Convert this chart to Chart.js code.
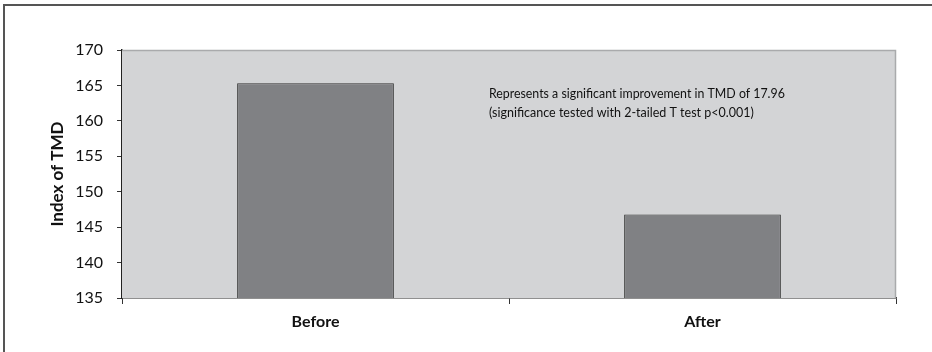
<!DOCTYPE html>
<html>
<head>
<meta charset="utf-8">
<script src="https://cdn.jsdelivr.net/npm/chart.js@4.4.1/dist/chart.umd.min.js"></script>
<style>
  html, body { margin: 0; padding: 0; background: #fff; }
  #wrap { width: 932px; height: 352px; position: relative; }
</style>
</head>
<body>
<div id="wrap"><canvas id="tmdChart" width="932" height="352"></canvas></div>
<script>
// TMD index before and after
const categories = ["Before", "After"];
const tmdValues = [165.3, 146.8];
const yMin = 135;
const yMax = 170;
const yStep = 5;
const noteLines = [
  "Represents a significant improvement in TMD of 17.96",
  "(significance tested with 2-tailed T test p<0.001)"
];

const FONT = "Lato, 'Open Sans', sans-serif";

// gray plot background, light top/right edge, frame and note text
const plotDecor = {
  id: "plotDecor",
  beforeDatasetsDraw(chart) {
    const { ctx, chartArea: a } = chart;
    ctx.save();
    ctx.fillStyle = "#d3d4d6";
    ctx.fillRect(a.left, a.top, a.right - a.left, a.bottom - a.top);
    ctx.strokeStyle = "#a9aaac";
    ctx.lineWidth = 1.5;
    ctx.beginPath();
    ctx.moveTo(a.left, a.top + 0.5);
    ctx.lineTo(a.right - 0.5, a.top + 0.5);
    ctx.lineTo(a.right - 0.5, a.bottom);
    ctx.stroke();
    ctx.restore();
  },
  afterDraw(chart) {
    const { ctx, chartArea: a } = chart;
    ctx.save();
    // outer frame, top and left side
    ctx.strokeStyle = "#555";
    ctx.lineWidth = 2;
    ctx.beginPath();
    ctx.moveTo(4, chart.height);
    ctx.lineTo(4, 5);
    ctx.lineTo(chart.width, 5);
    ctx.stroke();
    // note, squeezed a little so it keeps its width
    ctx.fillStyle = "#111";
    ctx.font = "13.5px " + FONT;
    ctx.textBaseline = "middle";
    const x = a.left + (a.right - a.left) * 0.474;
    const widths = [296, 265];
    noteLines.forEach((line, i) => {
      ctx.fillText(line, x, a.top + 44 + i * 19, widths[i]);
    });
    ctx.restore();
  }
};

new Chart(document.getElementById("tmdChart"), {
  type: "bar",
  data: {
    labels: categories,
    datasets: [
      {
        label: "Index of TMD",
        data: tmdValues,
        backgroundColor: "#808184",
        borderColor: "#333",
        borderWidth: 1,
        borderSkipped: false,
        categoryPercentage: 1,
        barPercentage: 0.405
      }
    ]
  },
  options: {
    responsive: false,
    animation: false,
    layout: { padding: { left: 0, top: 50, right: 36, bottom: 0 } },
    plugins: {
      legend: { display: false },
      tooltip: { enabled: false }
    },
    scales: {
      x: {
        grid: {
          drawOnChartArea: false,
          offset: true,
          tickLength: 6,
          color: "#333",
          lineWidth: 1
        },
        border: { color: "#222", width: 1.5 },
        ticks: {
          color: "#111",
          padding: 8,
          font: { family: FONT, size: 16, weight: "bold" }
        },
        afterFit(scale) { scale.height = 54; }
      },
      y: {
        min: yMin,
        max: yMax,
        grid: {
          drawOnChartArea: false,
          tickLength: 5,
          color: "#333",
          lineWidth: 1
        },
        border: { color: "#222", width: 1.5 },
        ticks: {
          stepSize: yStep,
          color: "#111",
          padding: 14,
          font: { family: FONT, size: 16 }
        },
        title: {
          display: true,
          text: "Index of TMD",
          color: "#111",
          padding: { top: 47, bottom: 0 },
          font: { family: FONT, size: 17, weight: "bold" }
        },
        afterFit(scale) { scale.width = 122; }
      }
    }
  },
  plugins: [plotDecor]
});
</script>
</body>
</html>
